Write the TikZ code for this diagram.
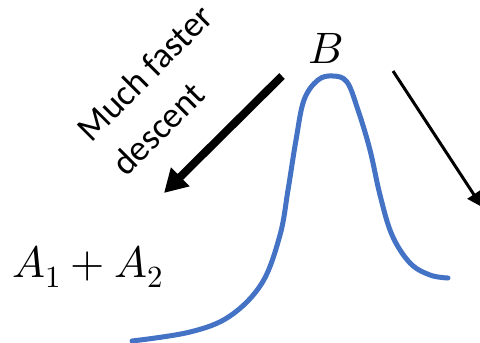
\documentclass[tikz,border=0pt]{standalone}
\usepackage{fontspec}
\setmainfont{Carlito}
\usepackage{unicode-math}
\usetikzlibrary{arrows.meta}
\definecolor{curveblue}{HTML}{4472C4}
\tikzset{
  thickarrow/.style={line width=8bp,-{Triangle[width=25bp,length=23bp]}},
  thinarrow/.style={line width=3bp,-{Triangle[width=15bp,length=15bp]}},
  curve/.style={line width=5bp,curveblue,line cap=round},
  mathlabel/.style={inner sep=0pt,font=\fontsize{44bp}{50bp}\selectfont},
  sidetext/.style={inner sep=0pt,align=left,rotate=45,font=\fontsize{36bp}{49bp}\selectfont}
}
\begin{document}
\begin{tikzpicture}[x=1bp,y=-1bp]
\useasboundingbox (0,0) rectangle (480,342);
\clip (0,0) rectangle (480,342);
\node[mathlabel] (B) at (326,48) {$B$};
\node[mathlabel,anchor=base west] (A) at (12,277) {$A_1+A_2$};
\node[sidetext,anchor=base west] (lbl) at (126,178) {Much faster\\descent};
\coordinate (t1s) at (282,76);
\coordinate (t1e) at (164,193);
\coordinate (t2s) at (393,71);
\coordinate (t2e) at (482,207);
\draw[thickarrow] (t1s) -- (t1e);
\draw[thinarrow] (t2s) -- (t2e);
\draw[curve] plot[smooth,tension=0.6] coordinates {(132,341) (190,332) (230,316) (262,283) (280,235) (288,190) (296,140) (304,100) (318,80) (333,76) (347,82) (358,110) (370,150) (380,195) (392,235) (410,263) (430,275) (448,278)};
\end{tikzpicture}
\end{document}
